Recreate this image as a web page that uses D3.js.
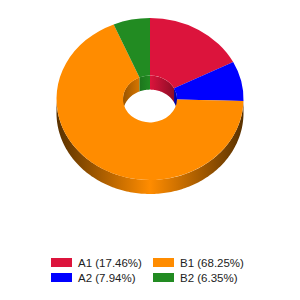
<!DOCTYPE html>
<html lang="en">
<head>
<meta charset="UTF-8">
<script src="https://cdn.jsdelivr.net/npm/d3@7"></script>
<title>3D donut</title>
<style>
  body { margin: 0; background: #fff; }
  text { font-family: Arial, "Liberation Sans", sans-serif; }
</style>
</head>
<body>
<script>
var categories = ["A1", "A2", "B1", "B2"];
var values = [11, 5, 43, 4];
var colors = ["#dc143c", "#0000ff", "#ff8c00", "#228b22"];
var legendOrder = ["A1", "A2", "B1", "B2"];   // column-major, 2 rows

var width = 300, height = 300;
var cx = 150, cy = 99;
var rx = 93.5, tilt = 0.866, depth = 14;
var rxIn = 27;

var total = d3.sum(values);
var fmt = d3.format(".2%");
var color = d3.scaleOrdinal().domain(categories).range(colors);

var svg = d3.select("body").append("svg")
    .attr("width", width).attr("height", height);

var pie = d3.pie().sort(null).value(function(d){ return d.value; });
var data = categories.map(function(c, i){ return {name: c, value: values[i]}; });
var arcs = pie(data);

var defs = svg.append("defs");
function darker(c, k) { return d3.interpolateRgb(c, "#000")(k); }

categories.forEach(function(c, i){
    var g = defs.append("linearGradient").attr("id", "side" + i)
        .attr("gradientUnits", "userSpaceOnUse")
        .attr("x1", cx - rx).attr("x2", cx + rx).attr("y1", 0).attr("y2", 0);
    g.append("stop").attr("offset", "0%").attr("stop-color", darker(color(c), 0.65));
    g.append("stop").attr("offset", "50%").attr("stop-color", color(c));
    g.append("stop").attr("offset", "100%").attr("stop-color", darker(color(c), 0.65));

    var gi = defs.append("linearGradient").attr("id", "inner" + i)
        .attr("gradientUnits", "userSpaceOnUse")
        .attr("x1", cx - rxIn).attr("x2", cx + rxIn).attr("y1", 0).attr("y2", 0);
    gi.append("stop").attr("offset", "0%").attr("stop-color", darker(color(c), 0.4));
    gi.append("stop").attr("offset", "50%").attr("stop-color", color(c));
    gi.append("stop").attr("offset", "100%").attr("stop-color", darker(color(c), 0.4));
});

function pt(a, r, dy) {
    return [cx + r * Math.sin(a), cy - r * tilt * Math.cos(a) + dy];
}
function wall(a0, a1, r) {
    var n = Math.max(2, Math.ceil((a1 - a0) / 0.02));
    var step = (a1 - a0) / n;
    var top = d3.range(n + 1).map(function(k){ return pt(a0 + k * step, r, 0); });
    var bot = d3.range(n + 1).map(function(k){ return pt(a1 - k * step, r, depth); });
    return d3.line()(top.concat(bot)) + "Z";
}

// outer side walls (front half: angle between PI/2 and 3PI/2)
arcs.forEach(function(d, i){
    var a0 = Math.max(d.startAngle, Math.PI / 2);
    var a1 = Math.min(d.endAngle, 3 * Math.PI / 2);
    if (a1 <= a0) return;
    svg.append("path").attr("d", wall(a0, a1, rx))
        .attr("fill", "url(#side" + i + ")");
});

// inner walls (far half of the hole: angle in [-PI/2, PI/2])
arcs.forEach(function(d, i){
    [[-Math.PI / 2, Math.PI / 2], [3 * Math.PI / 2, 5 * Math.PI / 2]].forEach(function(rg){
        var a0 = Math.max(d.startAngle, rg[0]);
        var a1 = Math.min(d.endAngle, rg[1]);
        if (a1 <= a0) return;
        svg.append("path").attr("d", wall(a0, a1, rxIn))
            .attr("fill", "url(#inner" + i + ")");
    });
});

// top faces
var arc = d3.arc().innerRadius(rxIn).outerRadius(rx);
svg.append("g")
    .attr("transform", "translate(" + cx + "," + cy + ") scale(1," + tilt + ")")
    .selectAll("path").data(arcs).enter().append("path")
    .attr("d", arc)
    .attr("fill", function(d){ return color(d.data.name); });

// legend
var legend = svg.append("g");
legendOrder.forEach(function(name, k){
    var i = categories.indexOf(name);
    var col = Math.floor(k / 2), row = k % 2;
    var x = 51 + col * 102, y = 258 + row * 15;
    legend.append("rect").attr("x", x).attr("y", y)
        .attr("width", 21).attr("height", 9)
        .attr("fill", color(name));
    legend.append("text").attr("x", x + 27).attr("y", y + 8.5)
        .attr("font-size", "11.5px").attr("fill", "#222")
        .text(name + " (" + fmt(values[i] / total) + ")");
});
</script>
</body>
</html>
